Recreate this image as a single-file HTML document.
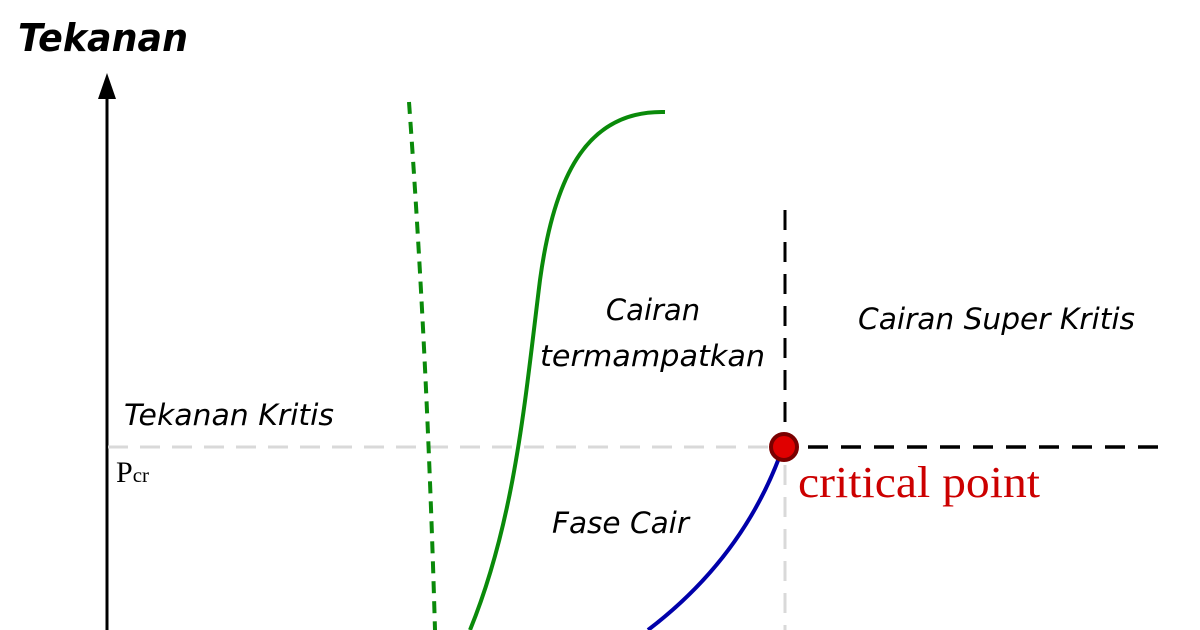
<!DOCTYPE html>
<html><head><style>html,body{margin:0;padding:0;background:#fff;}svg{display:block}</style></head>
<body>
<svg width="1200" height="630" viewBox="0 0 1200 630" xmlns="http://www.w3.org/2000/svg">
<rect width="1200" height="630" fill="#fff"/>
<text x="18" y="51" font-family="'DejaVu Sans','Liberation Sans',sans-serif" font-weight="bold" font-style="italic" font-size="38" fill="#000" textLength="170" lengthAdjust="spacingAndGlyphs">Tekanan</text>
<line x1="107" y1="630" x2="107" y2="92" stroke="#000" stroke-width="3"/>
<polygon points="107,73 98,99 116,99" fill="#000"/>
<line x1="108" y1="447" x2="772" y2="447" stroke="#d9d9d9" stroke-width="3" stroke-dasharray="20,12"/>
<line x1="785" y1="465" x2="785" y2="630" stroke="#d9d9d9" stroke-width="3" stroke-dasharray="20,12"/>
<line x1="785" y1="210" x2="785" y2="432" stroke="#000" stroke-width="3" stroke-dasharray="20,12"/>
<line x1="808" y1="447" x2="1162" y2="447" stroke="#000" stroke-width="3.5" stroke-dasharray="20,13"/>
<path d="M409,102 Q427,350 435,630" fill="none" stroke="#0a8a0a" stroke-width="4" stroke-dasharray="12,8"/>
<path d="M665,112 C590,110 555,170 540,280 C525,400 515,520 470,630" fill="none" stroke="#0a8a0a" stroke-width="4"/>
<path d="M648,630 Q740,560 779,458" fill="none" stroke="#0000aa" stroke-width="4"/>
<circle cx="784" cy="447" r="13" fill="#e00000" stroke="#7a0000" stroke-width="4"/>
<g font-family="'DejaVu Sans','Liberation Sans',sans-serif" font-style="italic" font-size="29" fill="#000" lengthAdjust="spacingAndGlyphs">
<text x="653" y="320" text-anchor="middle">Cairan</text>
<text x="540" y="366" textLength="225" lengthAdjust="spacingAndGlyphs">termampatkan</text>
<text x="858" y="329" textLength="277" lengthAdjust="spacingAndGlyphs">Cairan Super Kritis</text>
<text x="124" y="425" textLength="210" lengthAdjust="spacingAndGlyphs">Tekanan Kritis</text>
<text x="552" y="533" textLength="137" lengthAdjust="spacingAndGlyphs">Fase Cair</text>
</g>
<text x="116" y="482" font-family="'Liberation Serif',serif" font-size="30" fill="#000">P<tspan font-size="21">cr</tspan></text>
<text x="798" y="497" font-family="'Liberation Serif',serif" font-size="44" fill="#cc0000" textLength="242" lengthAdjust="spacingAndGlyphs">critical point</text>
</svg>
</body></html>
